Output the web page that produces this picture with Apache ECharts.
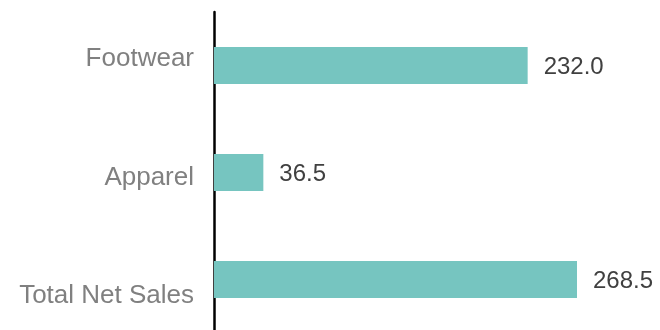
<!DOCTYPE html>
<html>
<head>
<meta charset="utf-8">
<script src="https://cdn.jsdelivr.net/npm/echarts@6/dist/echarts.min.js"></script>
<style>
  html, body { margin: 0; padding: 0; background: #fff; }
  #chart { width: 660px; height: 330px; }
</style>
</head>
<body>
<div id="chart"></div>
<script>
var categories = ['Total Net Sales', 'Apparel', 'Footwear'];
var sales = [268.5, 36.5, 232.0];

var chart = echarts.init(document.getElementById('chart'));

// the category names sit on a looser spacing than the bars,
// so they get their own (hidden) grid
var option = {
    animation: false,
    grid: [
        { left: 214, right: 83, top: 12, bottom: -3, outerBoundsMode: 'none' },
        { left: 214, right: 83, top: -0.6, height: 356, outerBoundsMode: 'none' }
    ],
    xAxis: [
        { type: 'value', min: 0, max: 268.5, show: false, gridIndex: 0 },
        { type: 'value', min: 0, max: 268.5, show: false, gridIndex: 1 }
    ],
    yAxis: [{
        type: 'category',
        gridIndex: 0,
        data: categories,
        axisLine: { show: true, lineStyle: { color: '#000', width: 2.5 } },
        axisTick: { show: false },
        axisLabel: { show: false }
    }, {
        type: 'category',
        gridIndex: 1,
        data: categories,
        axisLine: { show: false },
        axisTick: { show: false },
        splitLine: { show: false },
        axisLabel: {
            color: '#808080',
            fontSize: 26,
            fontFamily: 'Liberation Sans, Arial, sans-serif',
            margin: 20
        }
    }],
    series: [{
        type: 'bar',
        xAxisIndex: 0,
        yAxisIndex: 0,
        data: sales,
        barWidth: 37,
        itemStyle: { color: '#76C5C0' },
        label: {
            show: true,
            position: 'right',
            distance: 16,
            offset: [0, 2],
            color: '#404040',
            fontSize: 24,
            fontFamily: 'Liberation Sans, Arial, sans-serif',
            formatter: function (p) { return p.value.toFixed(1); }
        }
    }]
};

chart.setOption(option);
</script>
</body>
</html>
